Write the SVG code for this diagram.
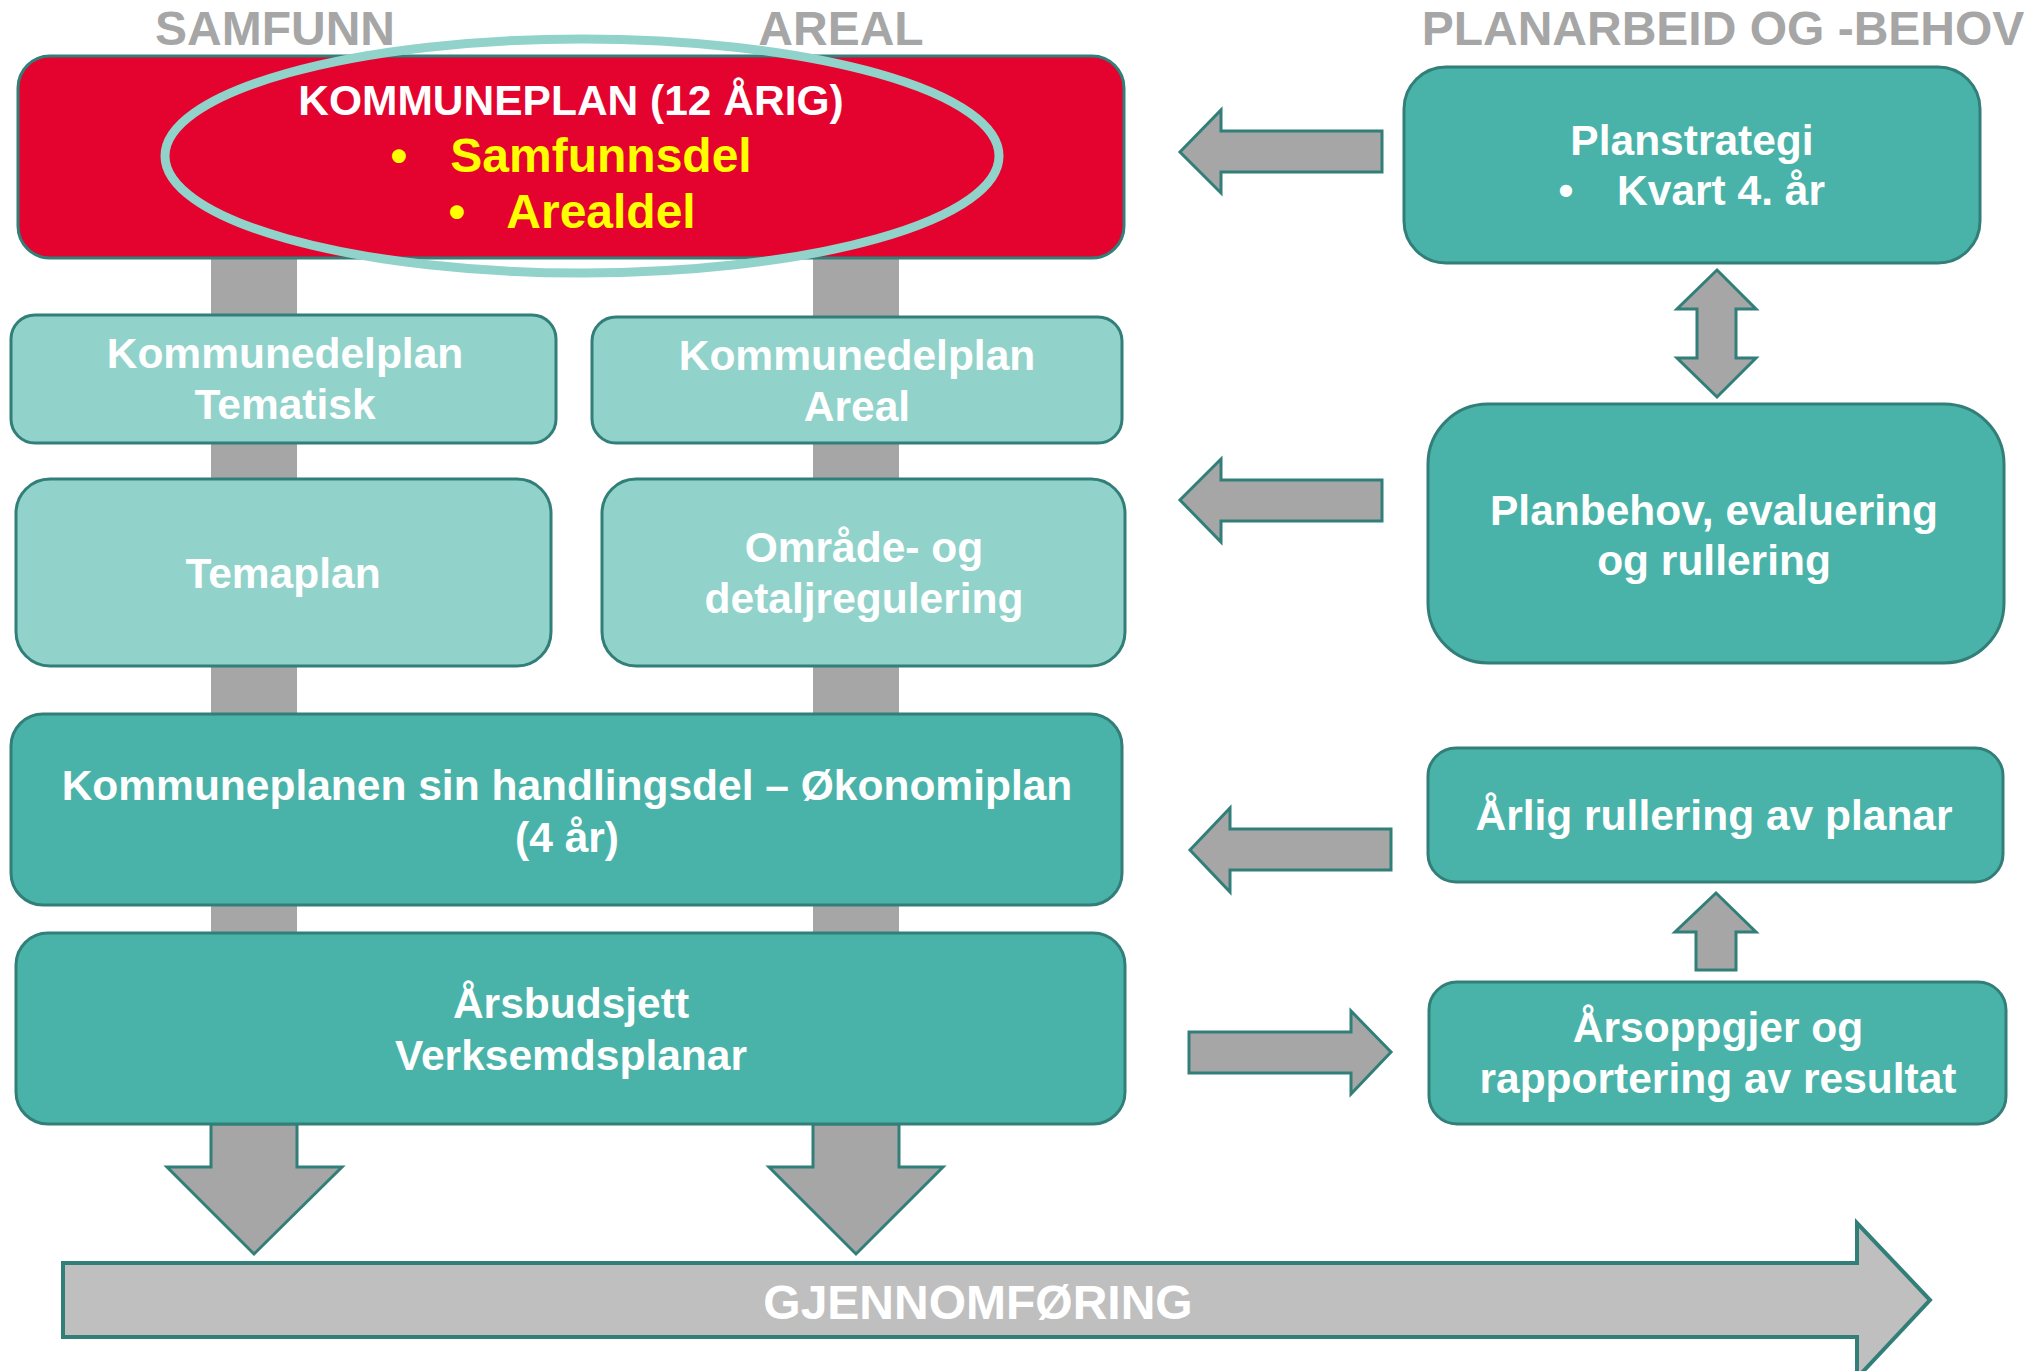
<svg xmlns="http://www.w3.org/2000/svg" width="2044" height="1371" viewBox="0 0 2044 1371">
<style>
text{font-family:"Liberation Sans",Arial,sans-serif;font-weight:bold;text-anchor:middle}
.hdr{font-size:48px;fill:#a6a6a6}
.t{font-size:42.5px;fill:#ffffff}
.y{font-size:48px;fill:#ffff00}
.dark{fill:#4ab3a9;stroke:#317f78;stroke-width:3}
.light{fill:#91d3cb;stroke:#317f78;stroke-width:3}
.arr{fill:#a6a6a6;stroke:#317f78;stroke-width:3;stroke-linejoin:miter}
.bar{fill:#a6a6a6}
</style>
<rect width="2044" height="1371" fill="#ffffff"/>
<g id="headers">
<text class="hdr" x="275" y="45">SAMFUNN</text>
<text class="hdr" x="841" y="45">AREAL</text>
<text class="hdr" x="1723" y="45">PLANARBEID OG -BEHOV</text>
</g>
<g id="connectors">
<rect class="bar" x="211" y="250" width="86" height="920"/>
<rect class="bar" x="813" y="250" width="86" height="920"/>
<polygon class="arr" points="211,1124 211,1167 167,1167 254,1254 342,1167 297,1167 297,1124"/>
<polygon class="arr" points="813,1124 813,1167 769,1167 856,1254 943,1167 899,1167 899,1124"/>
<polygon class="arr" points="1382,131 1221,131 1221,110 1180,152 1221,193 1221,172 1382,172"/>
<polygon class="arr" points="1382,480 1221,480 1221,459 1180,500 1221,542 1221,521 1382,521"/>
<polygon class="arr" points="1391,829 1230,829 1230,808 1190,850 1230,892 1230,870 1391,870"/>
<polygon class="arr" points="1189,1032 1351,1032 1351,1011 1391,1052 1351,1094 1351,1073 1189,1073"/>
<polygon class="arr" points="1717,270 1756,309 1736,309 1736,358 1756,358 1717,397 1677,358 1697,358 1697,309 1677,309"/>
<polygon class="arr" points="1716,893 1756,932 1736,932 1736,970 1696,970 1696,932 1675,932"/>
</g>
<g id="gjennomforing">
<polygon fill="#bfbfbf" stroke="#317f78" stroke-width="4" points="63,1263 1857,1263 1857,1223 1930,1300 1857,1378 1857,1337 63,1337"/>
<text x="978" y="1319" style="font-size:48px;fill:#ffffff">GJENNOMFØRING</text>
</g>
<g id="kommuneplan">
<rect x="18" y="56" width="1106" height="202" rx="32" fill="#e4032e" stroke="#317f78" stroke-width="3"/>
<ellipse cx="582" cy="156" rx="417" ry="117" fill="none" stroke="#91d3cb" stroke-width="9"/>
<text class="t" x="571" y="115">KOMMUNEPLAN (12 ÅRIG)</text>
<text class="y" x="399" y="172">•</text>
<text class="y" x="601" y="172">Samfunnsdel</text>
<text class="y" x="457" y="228">•</text>
<text class="y" x="601" y="228">Arealdel</text>
</g>
<g id="kdp-tematisk">
<rect class="light" x="11" y="315" width="545" height="128" rx="24"/>
<text class="t" x="285" y="368">Kommunedelplan</text>
<text class="t" x="285" y="419">Tematisk</text>
</g>
<g id="kdp-areal">
<rect class="light" x="592" y="317" width="530" height="126" rx="24"/>
<text class="t" x="857" y="370">Kommunedelplan</text>
<text class="t" x="857" y="421">Areal</text>
</g>
<g id="temaplan">
<rect class="light" x="16" y="479" width="535" height="187" rx="34"/>
<text class="t" x="283" y="588">Temaplan</text>
</g>
<g id="omrade">
<rect class="light" x="602" y="479" width="523" height="187" rx="34"/>
<text class="t" x="864" y="562">Område- og</text>
<text class="t" x="864" y="613">detaljregulering</text>
</g>
<g id="handlingsdel">
<rect class="dark" x="11" y="714" width="1111" height="191" rx="32"/>
<text class="t" x="567" y="800">Kommuneplanen sin handlingsdel – Økonomiplan</text>
<text class="t" x="567" y="852">(4 år)</text>
</g>
<g id="arsbudsjett">
<rect class="dark" x="16" y="933" width="1109" height="191" rx="32"/>
<text class="t" x="571" y="1018">Årsbudsjett</text>
<text class="t" x="571" y="1070">Verksemdsplanar</text>
</g>
<g id="planstrategi">
<rect class="dark" x="1404" y="67" width="576" height="196" rx="42"/>
<text class="t" x="1692" y="155">Planstrategi</text>
<text class="t" x="1566" y="205">•</text>
<text class="t" x="1721" y="205">Kvart 4. år</text>
</g>
<g id="planbehov">
<rect class="dark" x="1428" y="404" width="576" height="259" rx="60"/>
<text class="t" x="1714" y="525">Planbehov, evaluering</text>
<text class="t" x="1714" y="575">og rullering</text>
</g>
<g id="arlig">
<rect class="dark" x="1428" y="748" width="575" height="134" rx="28"/>
<text class="t" x="1714" y="830">Årlig rullering av planar</text>
</g>
<g id="arsoppgjer">
<rect class="dark" x="1429" y="982" width="577" height="142" rx="28"/>
<text class="t" x="1718" y="1042">Årsoppgjer og</text>
<text class="t" x="1718" y="1093">rapportering av resultat</text>
</g>
</svg>
